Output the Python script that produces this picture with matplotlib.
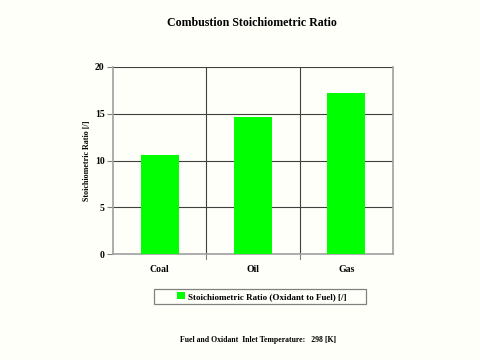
import matplotlib.pyplot as plt
from matplotlib.patches import Rectangle
import numpy as np

# chart data
fuels = ['Coal', 'Oil', 'Gas']
ratio = [10.6, 14.65, 17.2]
yticks = [0, 5, 10, 15, 20]

plt.rcParams['font.family'] = ['Liberation Serif', 'DejaVu Serif']
bg = '#fffffa'

fig = plt.figure(figsize=(4.8, 3.6), dpi=100, facecolor=bg)
ax = fig.add_axes([113/480, 1-254/360, 280/480, 187/360], facecolor=bg)

x = np.arange(len(fuels))
ax.bar(x, ratio, width=0.41, color='#00ff00', zorder=3,
       label='Stoichiometric Ratio (Oxidant to Fuel) [/]')

ax.set_xlim(-0.5, len(fuels) - 0.5)
ax.set_ylim(0, 20)
ax.set_yticks(yticks)
ax.set_yticklabels([str(v) for v in yticks], fontsize=7, fontweight='bold')
ax.set_xticks(x)
ax.set_xticklabels(fuels, fontsize=7, fontweight='bold')
ax.tick_params(axis='x', length=0, pad=8)
ax.tick_params(axis='y', length=4, color='#808080', pad=2)

# category boundaries
for b in np.arange(0.5, len(fuels) - 0.5, 1):
    ax.axvline(b, color='#404040', lw=0.8, zorder=1)
    ax.plot([b, b], [0, -0.5], color='#808080', lw=0.8, clip_on=False)
for v in yticks[1:]:
    ax.axhline(v, color='#404040', lw=0.8, zorder=1)

for s in ['left', 'bottom', 'right']:
    ax.spines[s].set_color('#a0a0a0')
    ax.spines[s].set_linewidth(1.2)
ax.spines['top'].set_visible(False)

ax.set_ylabel('Stoichiometric Ratio [/]', fontsize=5.8, fontweight='bold', labelpad=3)

fig.text(252/480, 1-23/360, 'Combustion Stoichiometric Ratio', ha='center', va='center',
         fontsize=8.6, fontweight='bold')

# legend with a wider frame drawn by hand
leg = fig.legend(loc='center', bbox_to_anchor=(262/480, 1-296.5/360),
                 prop={'weight': 'bold', 'size': 6.5}, frameon=False,
                 handlelength=0.8, handleheight=0.8, handletextpad=0.4)
fig.patches.append(Rectangle((154/480, 1-304/360), 212/480, 15/360,
                             transform=fig.transFigure, fill=False,
                             edgecolor='#808080', lw=0.9))

fig.text(258/480, 1-340/360, 'Fuel and Oxidant  Inlet Temperature:   298 [K]',
         ha='center', va='center', fontsize=5.6, fontweight='bold')

fig.savefig('out.png', dpi=100, facecolor=bg)
